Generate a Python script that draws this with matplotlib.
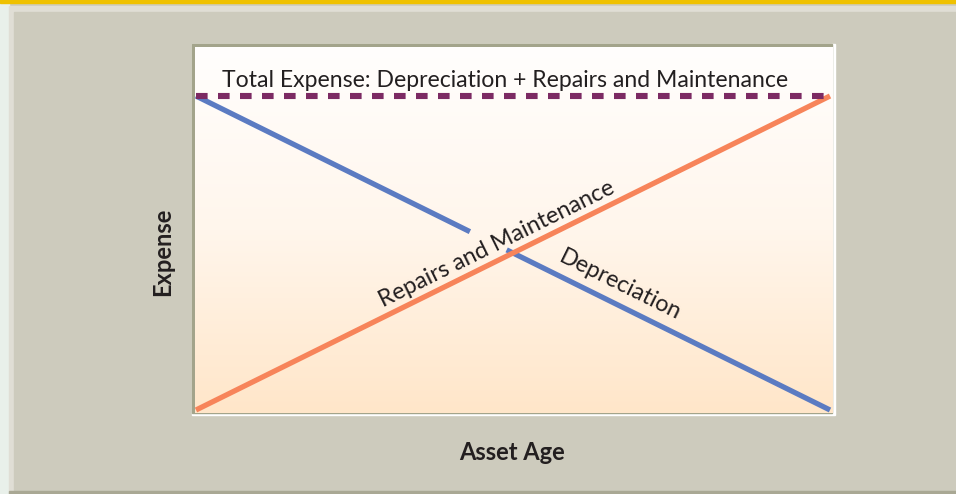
import numpy as np
import matplotlib

matplotlib.use("Agg")
import matplotlib.pyplot as plt
from matplotlib.patches import Rectangle
from matplotlib.colors import LinearSegmentedColormap

# conceptual chart: expense vs asset age (arbitrary units)
asset_age = [0, 10]
repairs = [0, 10]
total = [10, 10]
# depreciation line is broken where the repairs label crosses it
dep_age = [0, 4.32, np.nan, 4.9, 10]
depreciation = [10, 5.68, np.nan, 5.1, 0]

title_text = "Total Expense: Depreciation + Repairs and Maintenance"
repairs_label = "Repairs and Maintenance"
dep_label = "Depreciation"
x_label = "Asset Age"
y_label = "Expense"

W, H = 956, 494
FONT = "Lato"


def fx(px):
    return px / W


def fy(py):
    return 1 - py / H


fig = plt.figure(figsize=(W / 100, H / 100), dpi=100)
fig.patch.set_facecolor("#cdcbbd")

# frame decorations
fig.add_artist(Rectangle((0, 0), 1, 1, transform=fig.transFigure, color="#cdcbbd", zorder=-10))
fig.add_artist(Rectangle((0, 0), fx(9), 1, transform=fig.transFigure, color="#e9f0ea", zorder=-9))
fig.add_artist(Rectangle((fx(9), fy(494)), 1, fy(6) - fy(494), transform=fig.transFigure,
                         color="#e0ded5", zorder=-9))
fig.add_artist(Rectangle((fx(14), fy(491)), 1, fy(12) - fy(491), transform=fig.transFigure,
                         color="#cdcbbd", zorder=-8))
fig.add_artist(Rectangle((fx(9), 0), 1, fy(491), transform=fig.transFigure,
                         color="#a9a894", zorder=-8))
fig.add_artist(Rectangle((0, fy(3)), 1, 1, transform=fig.transFigure, color="#efc100", zorder=-7))

# outer plot frame (olive top/left, white bottom/right)
fig.add_artist(Rectangle((fx(192), fy(415)), fx(643), fy(44) - fy(415), transform=fig.transFigure,
                         color="#ffffff", zorder=-6))
fig.add_artist(Rectangle((fx(192), fy(413)), fx(640), fy(44) - fy(413), transform=fig.transFigure,
                         color="#a3a48b", zorder=-5))

ax = fig.add_axes([fx(195), fy(413), fx(833) - fx(195), fy(47) - fy(413)])
xlim = (-(196 - 195) / 63.4, 10 + (833 - 830) / 63.4)
ylim = (-(413 - 410) / 31.4, 10 + (96 - 47) / 31.4)
ax.set_xlim(*xlim)
ax.set_ylim(*ylim)

cmap = LinearSegmentedColormap.from_list("bg", ["#ffe6c9", "#fff6ec", "#fffefd"])
grad = np.linspace(0, 1, 256).reshape(-1, 1)
ax.imshow(grad, cmap=cmap, aspect="auto", origin="lower",
          extent=(xlim[0], xlim[1], ylim[0], ylim[1]), zorder=0)
for s in ax.spines.values():
    s.set_visible(False)
ax.set_xticks([])
ax.set_yticks([])

ax.plot(dep_age, depreciation, color="#5b7bc2", linewidth=3.8, solid_capstyle="butt", zorder=2)
ax.plot(asset_age, repairs, color="#f7845a", linewidth=3.8, solid_capstyle="butt", zorder=3)
ax.plot(asset_age, total, color="#7c2a63", linewidth=4.4, linestyle=(0, (1.9, 1.7)),
        dash_capstyle="butt", zorder=4)

ax.text(0.41, 10.29, title_text, fontsize=16.6, family=FONT, color="#231f20",
        ha="left", va="baseline", zorder=5)
ax.text(4.75, 5.29, repairs_label, fontsize=16.8, family=FONT, color="#231f20",
        rotation=26.3, ha="center", va="center", rotation_mode="anchor", zorder=5)
ax.text(6.69, 3.98, dep_label, fontsize=16.8, family=FONT, color="#231f20",
        rotation=-26.3, ha="center", va="center", rotation_mode="anchor", zorder=5)

fig.text(fx(512), fy(452), x_label, fontsize=17, family=FONT, weight="bold",
         color="#231f20", ha="center", va="center")
fig.text(fx(163), fy(252), y_label, fontsize=17, family=FONT, weight="bold",
         color="#231f20", ha="center", va="center", rotation=90)

fig.savefig("out.png", dpi=100, facecolor=fig.get_facecolor())
